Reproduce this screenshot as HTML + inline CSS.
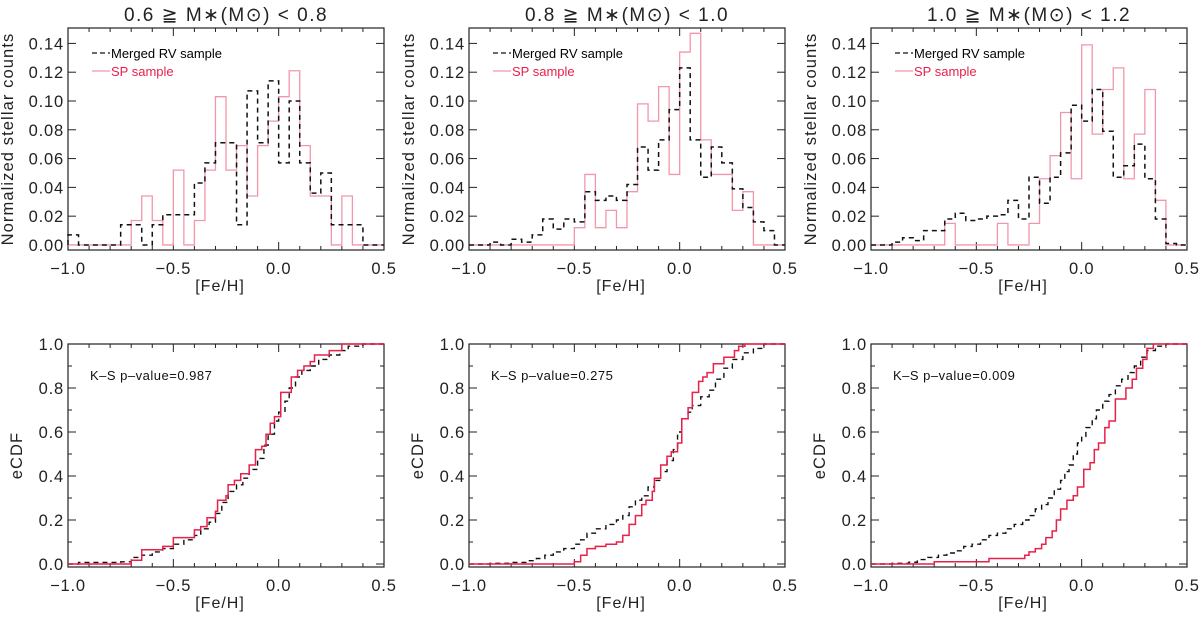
<!DOCTYPE html>
<html><head><meta charset="utf-8">
<style>
body{margin:0;background:#fff;}
svg text{font-family:"Liberation Sans","DejaVu Sans",sans-serif;}
</style></head>
<body>
<svg id="fig" width="1200" height="617" viewBox="0 0 1200 617" xmlns="http://www.w3.org/2000/svg"></svg>
<script>
// ---- data ----
const binStart = -1.0;
const binWidth = 0.05;
const histRV1 = [0.007,0,0,0,0,0.014,0.014,0,0.014,0.021,0.021,0.021,0.043,0.057,0.071,0.071,0.014,0.107,0.071,0.114,0.057,0.100,0.057,0.036,0.050,0.014,0.014,0.014,0,0];
const histSP1 = [0,0,0,0,0,0,0.017,0.034,0.017,0,0.052,0,0.017,0.052,0.103,0.052,0.069,0.034,0.069,0.086,0.103,0.121,0.069,0.034,0.034,0,0.034,0,0,0];
const histRV2 = [0,0,0.002,0,0.004,0.002,0.007,0.018,0.011,0.018,0.016,0.037,0.031,0.034,0.031,0.042,0.068,0.052,0.073,0.094,0.123,0.073,0.047,0.068,0.057,0.039,0.026,0.016,0.010,0];
const histSP2 = [0,0,0,0,0,0,0,0,0,0,0.012,0.049,0.012,0.024,0.012,0.037,0.098,0.086,0.110,0.049,0.134,0.147,0.073,0.049,0.049,0.024,0.037,0,0,0];
const histRV3 = [0,0,0.002,0.005,0.003,0.010,0.010,0.018,0.022,0.017,0.018,0.020,0.021,0.031,0.018,0.047,0.029,0.047,0.064,0.097,0.086,0.108,0.079,0.047,0.055,0.070,0.046,0.018,0.001,0];
const histSP3 = [0,0,0,0,0,0,0,0.015,0,0,0,0,0.015,0,0,0.015,0.046,0.062,0.092,0.046,0.139,0.077,0.108,0.123,0.046,0.077,0.108,0.031,0,0];

const cdfRV1x = [-0.95,-0.75,-0.70,-0.65,-0.60,-0.55,-0.50,-0.45,-0.40,-0.37,-0.33,-0.30,-0.27,-0.24,-0.20,-0.17,-0.14,-0.10,-0.07,-0.05,-0.02,0.00,0.03,0.05,0.08,0.11,0.15,0.19,0.24,0.29,0.33,0.40];
const cdfRV1y = [0.007,0.01,0.03,0.04,0.055,0.07,0.09,0.11,0.13,0.16,0.19,0.23,0.28,0.33,0.36,0.39,0.43,0.48,0.54,0.59,0.65,0.69,0.74,0.80,0.85,0.88,0.90,0.93,0.95,0.97,0.99,1.0];
const cdfSP1x = [-0.70,-0.65,-0.55,-0.50,-0.40,-0.37,-0.34,-0.30,-0.29,-0.25,-0.24,-0.21,-0.18,-0.14,-0.11,-0.08,-0.06,-0.04,-0.02,0.01,0.06,0.09,0.12,0.15,0.17,0.24,0.30];
const cdfSP1y = [0.017,0.065,0.08,0.12,0.155,0.17,0.21,0.24,0.29,0.31,0.36,0.38,0.41,0.45,0.52,0.535,0.59,0.64,0.67,0.78,0.85,0.88,0.90,0.92,0.95,0.97,1.0];
const cdfRV2x = [-0.90,-0.80,-0.72,-0.68,-0.64,-0.60,-0.55,-0.50,-0.47,-0.44,-0.40,-0.35,-0.30,-0.27,-0.24,-0.21,-0.18,-0.15,-0.12,-0.09,-0.06,-0.03,-0.01,0.01,0.04,0.06,0.10,0.14,0.17,0.21,0.25,0.30,0.35,0.40];
const cdfRV2y = [0.003,0.007,0.015,0.025,0.04,0.055,0.07,0.09,0.11,0.14,0.16,0.18,0.20,0.22,0.26,0.29,0.31,0.35,0.38,0.42,0.47,0.52,0.60,0.66,0.69,0.72,0.76,0.79,0.84,0.89,0.93,0.96,0.98,1.0];
const cdfSP2x = [-0.50,-0.47,-0.44,-0.40,-0.35,-0.30,-0.27,-0.24,-0.21,-0.18,-0.16,-0.13,-0.12,-0.09,-0.06,-0.04,-0.01,0.01,0.04,0.06,0.09,0.11,0.13,0.16,0.21,0.26,0.28,0.31];
const cdfSP2y = [0.01,0.04,0.07,0.08,0.09,0.10,0.13,0.18,0.22,0.27,0.29,0.33,0.39,0.45,0.49,0.51,0.55,0.66,0.71,0.78,0.83,0.85,0.87,0.91,0.94,0.97,0.99,1.0];
const cdfRV3x = [-0.90,-0.82,-0.78,-0.73,-0.68,-0.64,-0.60,-0.56,-0.52,-0.48,-0.44,-0.40,-0.36,-0.32,-0.28,-0.25,-0.22,-0.19,-0.16,-0.13,-0.10,-0.08,-0.06,-0.04,-0.02,0.00,0.02,0.05,0.07,0.10,0.13,0.16,0.19,0.22,0.25,0.28,0.31,0.35,0.40];
const cdfRV3y = [0.003,0.008,0.02,0.03,0.04,0.05,0.06,0.08,0.09,0.11,0.13,0.14,0.16,0.18,0.20,0.22,0.25,0.27,0.30,0.34,0.38,0.42,0.45,0.50,0.55,0.58,0.62,0.66,0.70,0.74,0.77,0.81,0.84,0.87,0.90,0.94,0.97,0.99,1.0];
const cdfSP3x = [-0.70,-0.44,-0.27,-0.25,-0.22,-0.19,-0.17,-0.14,-0.12,-0.10,-0.07,-0.04,-0.02,0.01,0.04,0.06,0.08,0.11,0.13,0.16,0.21,0.24,0.26,0.29,0.31,0.34];
const cdfSP3y = [0.01,0.025,0.04,0.055,0.07,0.09,0.12,0.15,0.20,0.25,0.29,0.31,0.35,0.43,0.46,0.52,0.55,0.62,0.65,0.75,0.80,0.84,0.89,0.93,0.98,1.0];

const titles = ["0.6 \u2267 M\u2217(M\u2299) < 0.8","0.8 \u2267 M\u2217(M\u2299) < 1.0","1.0 \u2267 M\u2217(M\u2299) < 1.2"];
const ksLabels = ["K\u2013S p\u2013value=0.987","K\u2013S p\u2013value=0.275","K\u2013S p\u2013value=0.009"];
const xTickLabels = ["\u22121.0","\u22120.5","0.0","0.5"];
const histYTicks = ["0.00","0.02","0.04","0.06","0.08","0.10","0.12","0.14"];
const cdfYTicks = ["0.0","0.2","0.4","0.6","0.8","1.0"];

const histRV=[histRV1,histRV2,histRV3], histSP=[histSP1,histSP2,histSP3];
const cdfRV=[[cdfRV1x,cdfRV1y],[cdfRV2x,cdfRV2y],[cdfRV3x,cdfRV3y]];
const cdfSP=[[cdfSP1x,cdfSP1y],[cdfSP2x,cdfSP2y],[cdfSP3x,cdfSP3y]];

// ---- layout ----
const NS="http://www.w3.org/2000/svg";
const svg=document.getElementById('fig');
const boxL=[68,469,871], boxW=316;
const topBox=[28,250], botBox=[344,567];
const XMIN=-1.0,XMAX=0.5;
const HYMIN=-0.0035,HYMAX=0.1507;
const CYMIN=-0.0136,CYMAX=1.0;
function mk(tag,attrs,parent){const e=document.createElementNS(NS,tag);for(const k in attrs)e.setAttribute(k,attrs[k]);(parent||svg).appendChild(e);return e;}
function xs(i){return v=>boxL[i]+(v-XMIN)/(XMAX-XMIN)*boxW;}
function ys(box,mn,mx){return v=>box[1]-(v-mn)/(mx-mn)*(box[1]-box[0]);}

function axes(i,box,mn,mx,yt,ylab,gName){
  const g=mk('g',{});
  
  
  const X=xs(i),Y=ys(box,mn,mx);
  const r=mk('rect',{x:boxL[i],y:box[0],width:boxW,height:box[1]-box[0],fill:'none',stroke:'#222','stroke-width':1.2},g);
  
  
  for(let k=0;k<=15;k++){
    const v=XMIN+k*0.1, px=X(v), len=(k%5===0)?8:4;
    mk('line',{x1:px,y1:box[1],x2:px,y2:box[1]-len,stroke:'#222','stroke-width':1},g);
    mk('line',{x1:px,y1:box[0],x2:px,y2:box[0]+len,stroke:'#222','stroke-width':1},g);
  }
  xTickLabels.forEach((t,k)=>{
    const tx=mk('text',{x:X(XMIN+k*0.5),y:box[1]+24,'font-size':16.5,'letter-spacing':'0.8','text-anchor':'middle',fill:'#222'},g);
    tx.textContent=t;
    
    
  });
  const xl=mk('text',{x:boxL[i]+boxW/2-6,y:box[1]+41,'font-size':16,'letter-spacing':'1','text-anchor':'middle',fill:'#222'},g);
  xl.textContent='[Fe/H]';
  
  
  const step=(yt.length===8)?0.02:0.2;
  yt.forEach((t,k)=>{
    const py=Y(k*step);
    mk('line',{x1:boxL[i],y1:py,x2:boxL[i]+8,y2:py,stroke:'#222','stroke-width':1},g);
    mk('line',{x1:boxL[i]+boxW,y1:py,x2:boxL[i]+boxW-8,y2:py,stroke:'#222','stroke-width':1},g);
    if(step===0.2&&k<yt.length-1){const pm=Y(k*step+0.1);
      mk('line',{x1:boxL[i],y1:pm,x2:boxL[i]+4,y2:pm,stroke:'#222','stroke-width':1},g);
      mk('line',{x1:boxL[i]+boxW,y1:pm,x2:boxL[i]+boxW-4,y2:pm,stroke:'#222','stroke-width':1},g);}
    const tx=mk('text',{x:boxL[i]-4,y:py+6,'font-size':16.5,'letter-spacing':'0.8','text-anchor':'end',fill:'#222'},g);
    tx.textContent=t;
    
    
  });
  const cy=(box[0]+box[1])/2, cx=(step===0.02)?boxL[i]-55:boxL[i]-46;
  const yl=mk('text',{x:cx,y:cy,'font-size':16.5,'letter-spacing':'1.1','text-anchor':'middle',fill:'#222',transform:`rotate(-90 ${cx} ${cy})`},g);
  yl.textContent=ylab;
  
  
  return {X,Y};
}
function histPath(vals,X,Y){
  let d=`M${X(binStart)},${Y(0)}`;
  vals.forEach((v,k)=>{const a=binStart+k*binWidth;d+=` L${X(a)},${Y(v)} L${X(a+binWidth)},${Y(v)}`;});
  d+=` L${X(binStart+vals.length*binWidth)},${Y(0)}`;
  return d;
}
function cdfPath(xa,ya,X,Y){
  let d=`M${X(XMIN)},${Y(0)}`, prev=0;
  xa.forEach((x,k)=>{d+=` L${X(x)},${Y(prev)} L${X(x)},${Y(ya[k])}`;prev=ya[k];});
  d+=` L${X(XMAX)},${Y(prev)}`;
  return d;
}
for(let i=0;i<3;i++){
  const t=mk('text',{x:boxL[i]+boxW/2,y:21,'font-size':19,'text-anchor':'middle',fill:'#222','letter-spacing':'1.5'});
  t.textContent=titles[i];
  
  
  const h=axes(i,topBox,HYMIN,HYMAX,histYTicks,'Normalized stellar counts','histogram-panel');
  const sp=mk('path',{d:histPath(histSP[i],h.X,h.Y),fill:'none',stroke:'#f297aa','stroke-width':1.3});
  
  
  const rv=mk('path',{d:histPath(histRV[i],h.X,h.Y),fill:'none',stroke:'#111','stroke-width':1.5,'stroke-dasharray':'5,4'});
  
  
  const lg=mk('g',{});
  
  
  const lx=boxL[i]+24;
  mk('line',{x1:lx,y1:53,x2:lx+18,y2:53,stroke:'#111','stroke-width':1.2,'stroke-dasharray':'5,3'},lg);
  const l1=mk('text',{x:lx+19,y:58,'font-size':13,fill:'#000'},lg);l1.textContent='Merged RV sample';
  
  
  mk('line',{x1:lx,y1:71,x2:lx+18,y2:71,stroke:'#f297aa','stroke-width':1.3},lg);
  const l2=mk('text',{x:lx+19,y:76,'font-size':13,fill:'#e8204a'},lg);l2.textContent='SP sample';
  
  
  const c=axes(i,botBox,CYMIN,CYMAX,cdfYTicks,'eCDF','cdf-panel');
  const crv=mk('path',{d:cdfPath(cdfRV[i][0],cdfRV[i][1],c.X,c.Y),fill:'none',stroke:'#111','stroke-width':1.4,'stroke-dasharray':'5,4'});
  
  
  const csp=mk('path',{d:cdfPath(cdfSP[i][0],cdfSP[i][1],c.X,c.Y),fill:'none',stroke:'#e8204a','stroke-width':1.5});
  
  
  const ks=mk('text',{x:boxL[i]+22,y:380,'font-size':13,'letter-spacing':'0.5',fill:'#111'});
  ks.textContent=ksLabels[i];
  
  
}
</script>
</body></html>
